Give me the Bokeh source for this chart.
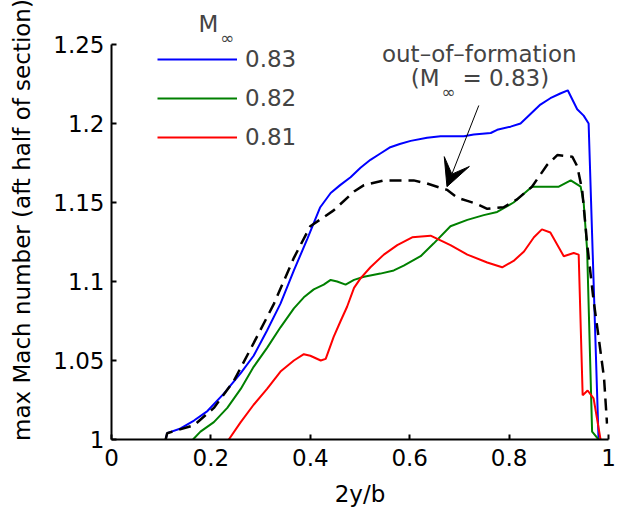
from bokeh.plotting import figure
from bokeh.models import Range1d, FixedTicker, Legend, LegendItem, Label, Arrow, VeeHead
from bokeh.embed import file_html
from bokeh.resources import INLINE

# ---------------- data ----------------
mach_labels = ["0.83", "0.82", "0.81"]

x_083 = [0.109, 0.112, 0.139, 0.166, 0.193, 0.226, 0.260, 0.286, 0.313, 0.340, 0.367, 0.394,
         0.420, 0.441, 0.460, 0.481, 0.501, 0.521, 0.541, 0.561, 0.580, 0.602, 0.635, 0.662,
         0.689, 0.709, 0.729, 0.763, 0.776, 0.803, 0.823, 0.843, 0.863, 0.883, 0.903, 0.918,
         0.937, 0.950, 0.960, 0.980]
y_083 = [1.000, 1.004, 1.007, 1.012, 1.018, 1.029, 1.042, 1.053, 1.069, 1.086, 1.107, 1.127,
         1.147, 1.156, 1.161, 1.166, 1.172, 1.177, 1.181, 1.185, 1.187, 1.189, 1.191, 1.192,
         1.192, 1.192, 1.193, 1.194, 1.196, 1.198, 1.200, 1.206, 1.212, 1.216, 1.219, 1.221,
         1.209, 1.205, 1.200, 1.000]

x_082 = [0.164, 0.179, 0.206, 0.233, 0.260, 0.286, 0.313, 0.340, 0.367, 0.387, 0.407, 0.427,
         0.441, 0.454, 0.471, 0.488, 0.508, 0.541, 0.568, 0.588, 0.622, 0.648, 0.682, 0.716,
         0.749, 0.776, 0.809, 0.846, 0.877, 0.900, 0.924, 0.944, 0.950, 0.957, 0.967, 0.980]
y_082 = [1.000, 1.005, 1.011, 1.020, 1.032, 1.046, 1.058, 1.071, 1.083, 1.090, 1.095, 1.098,
         1.101, 1.100, 1.098, 1.101, 1.103, 1.105, 1.107, 1.110, 1.116, 1.124, 1.135, 1.139,
         1.142, 1.144, 1.150, 1.160, 1.160, 1.160, 1.164, 1.160, 1.150, 1.120, 1.005, 1.000]

x_081 = [0.236, 0.260, 0.286, 0.313, 0.340, 0.367, 0.387, 0.400, 0.421, 0.431, 0.447, 0.461,
         0.474, 0.488, 0.501, 0.521, 0.548, 0.575, 0.605, 0.642, 0.662, 0.682, 0.716, 0.756,
         0.786, 0.809, 0.830, 0.850, 0.866, 0.883, 0.910, 0.930, 0.940, 0.948, 0.958, 0.970, 0.984]
y_081 = [1.000, 1.011, 1.022, 1.032, 1.043, 1.050, 1.054, 1.053, 1.050, 1.051, 1.065, 1.075,
         1.084, 1.096, 1.102, 1.109, 1.117, 1.123, 1.128, 1.129, 1.126, 1.123, 1.117, 1.112,
         1.109, 1.113, 1.119, 1.128, 1.133, 1.131, 1.116, 1.118, 1.117, 1.028, 1.031, 1.026, 1.000]

x_oof = [0.109, 0.112, 0.166, 0.206, 0.246, 0.286, 0.327, 0.367, 0.400, 0.447, 0.488, 0.508,
         0.548, 0.608, 0.635, 0.675, 0.696, 0.716, 0.736, 0.756, 0.789, 0.816, 0.846, 0.877,
         0.897, 0.927, 0.937, 0.947, 0.957, 0.970, 0.980, 0.991, 0.997]
y_oof = [1.000, 1.004, 1.009, 1.020, 1.037, 1.061, 1.086, 1.115, 1.135, 1.145, 1.157, 1.161,
         1.164, 1.164, 1.162, 1.158, 1.153, 1.151, 1.149, 1.146, 1.147, 1.152, 1.160, 1.174,
         1.180, 1.179, 1.173, 1.158, 1.124, 1.088, 1.065, 1.039, 1.010]

x_ticks = [0, 0.2, 0.4, 0.6, 0.8, 1]
x_tick_labels = ["0", "0.2", "0.4", "0.6", "0.8", "1"]
y_ticks = [1, 1.05, 1.1, 1.15, 1.2, 1.25]
y_tick_labels = ["1", "1.05", "1.1", "1.15", "1.2", "1.25"]

# annotation anchor (data units)
arrow_start = (0.739, 1.2114)
arrow_end = (0.675, 1.160)

# ---------------- figure ----------------
FONT = "DejaVu Sans"
FS = "23px"

# frame extends to top of canvas so that texts above 1.25 are not clipped;
# the y axis line itself is bounded to 1..1.25
Y_TOP = 1 + 439 / 1580.0

p = figure(frame_width=497, frame_height=439,
           min_border_left=111, min_border_right=12, min_border_top=0, min_border_bottom=73,
           x_range=Range1d(0, 1), y_range=Range1d(1, Y_TOP),
           output_backend="svg", toolbar_location=None)
p.grid.visible = False
p.outline_line_color = None
p.background_fill_color = "white"
p.border_fill_color = "white"

for ax in (p.xaxis[0], p.yaxis[0]):
    ax.axis_line_width = 2
    ax.axis_line_color = "black"
    ax.major_tick_line_width = 2
    ax.major_tick_line_color = "black"
    ax.major_tick_in = 5
    ax.major_tick_out = 0
    ax.minor_tick_line_color = None
    ax.major_label_text_font = FONT
    ax.major_label_text_font_size = FS
    ax.major_label_text_color = "black"
    ax.axis_label_text_font = FONT
    ax.axis_label_text_font_size = FS
    ax.axis_label_text_font_style = "normal"
    ax.axis_label_text_color = "black"

p.yaxis.bounds = (1, 1.25)
p.xaxis.ticker = FixedTicker(ticks=x_ticks)
p.xaxis.major_label_overrides = dict(zip(x_ticks, x_tick_labels))
p.yaxis.ticker = FixedTicker(ticks=y_ticks)
p.yaxis.major_label_overrides = dict(zip(y_ticks, y_tick_labels))
p.xaxis.axis_label = "2y/b"
p.yaxis.axis_label = "max Mach number (aft half of section)"
p.xaxis.major_label_standoff = 9
p.xaxis.axis_label_standoff = 12
p.yaxis.major_label_standoff = 7
p.yaxis.axis_label_standoff = 15

r1 = p.line(x_083, y_083, line_color="#0000FF", line_width=2)
r2 = p.line(x_082, y_082, line_color="#008000", line_width=2)
r3 = p.line(x_081, y_081, line_color="#FF0000", line_width=2)
p.line(x_oof, y_oof, line_color="black", line_width=2.5, line_dash="12 7")

legend = Legend(items=[LegendItem(label=mach_labels[0], renderers=[r1]),
                       LegendItem(label=mach_labels[1], renderers=[r2]),
                       LegendItem(label=mach_labels[2], renderers=[r3])],
                location=(46, 288), padding=0, margin=0, spacing=11,
                glyph_width=80, glyph_height=28, label_height=28, label_standoff=8,
                label_text_font=FONT, label_text_font_size=FS,
                border_line_color=None, background_fill_alpha=0)
p.add_layout(legend, "center")

# legend title M_inf
p.add_layout(Label(x=0.175, y=1.2627, text="M", text_font=FONT, text_font_size=FS,
                   text_baseline="alphabetic", text_align="left"))
p.add_layout(Label(x=0.219, y=1.2538, text="∞", text_font=FONT, text_font_size="17px",
                   text_baseline="alphabetic", text_align="left"))

# annotation
p.add_layout(Label(x=0.740, y=1.2437, text="out–of–formation", text_font=FONT, text_font_size=FS,
                   text_baseline="alphabetic", text_align="center"))
p.add_layout(Label(x=0.660, y=1.2289, text="(M", text_font=FONT, text_font_size=FS,
                   text_baseline="alphabetic", text_align="right"))
p.add_layout(Label(x=0.664, y=1.2199, text="∞", text_font=FONT, text_font_size="17px",
                   text_baseline="alphabetic", text_align="left"))
p.add_layout(Label(x=0.706, y=1.2289, text="= 0.83)", text_font=FONT, text_font_size=FS,
                   text_baseline="alphabetic", text_align="left"))

p.add_layout(Arrow(x_start=arrow_start[0], y_start=arrow_start[1],
                   x_end=arrow_end[0], y_end=arrow_end[1], line_width=1, line_color="black",
                   end=VeeHead(size=27, fill_color="black", line_color="black", line_width=1)))

open("out.html", "w").write(file_html(p, INLINE))
